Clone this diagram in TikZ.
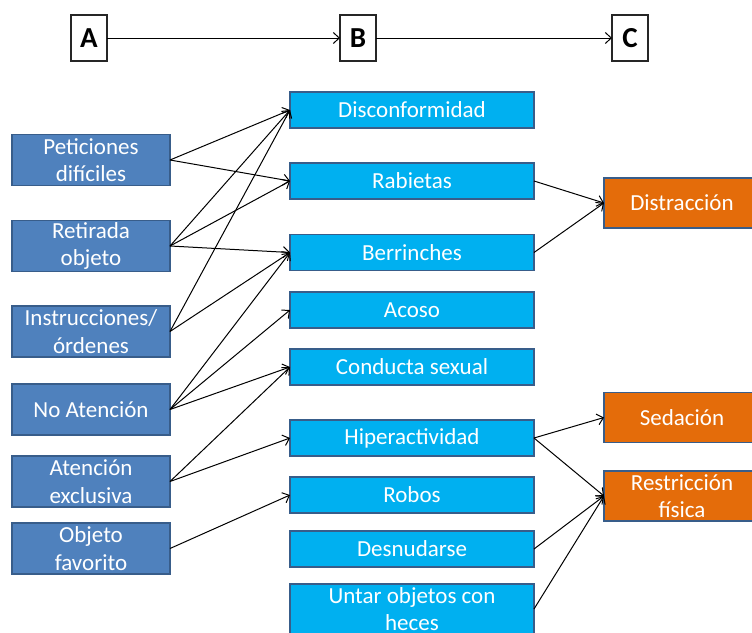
\documentclass[tikz,border=0pt]{standalone}
\usepackage{fontspec}
\setmainfont{Carlito}
\usetikzlibrary{arrows.meta}
\definecolor{aboxc}{HTML}{4F81BD}
\definecolor{bboxc}{HTML}{00B0F0}
\definecolor{cboxc}{HTML}{E46C0A}
\definecolor{edgec}{HTML}{385D8A}
\begin{document}
\begin{tikzpicture}[x=1pt,y=-1pt,
  base/.style={draw=edgec, line width=1.6pt, text=white, inner sep=0pt, outer sep=0pt, align=center, font=\fontsize{23}{27.4}\selectfont},
  abox/.style={base, fill=aboxc, minimum width=158pt, minimum height=51pt},
  bbox/.style={base, fill=bboxc, minimum width=244pt, minimum height=36pt},
  cbox/.style={base, fill=cboxc, minimum width=156pt, minimum height=50pt},
  hdr/.style={draw=black!85, fill=white, line width=1.2pt, minimum width=36pt, minimum height=46pt, inner sep=0pt, outer sep=0pt, font=\fontsize{29}{30}\selectfont\bfseries},
  conn/.style={line width=1pt, -{Straight Barb[length=6pt,width=11pt,line width=1pt]}}
]
\useasboundingbox (0,0) rectangle (752,632);

% header
\node[hdr] (A) at (89,38) {A};
\node[hdr] (B) at (358,38) {B};
\node[hdr] (C) at (630,38) {C};
\draw[conn] (A) -- (B);
\draw[conn] (B) -- (C);

% column A
\node[abox] (pet) at (91,160) {Peticiones\\difíciles};
\node[abox] (ret) at (91,246) {Retirada\\objeto};
\node[abox] (ins) at (91,331.5) {Instrucciones/\\órdenes};
\node[abox] (noa) at (91,409.5) {No Atención};
\node[abox] (ate) at (91,481.5) {Atención\\exclusiva};
\node[abox] (obj) at (91,548.5) {Objeto\\favorito};

% column B
\node[bbox] (dis) at (412,110) {Disconformidad};
\node[bbox] (rab) at (412,181) {Rabietas};
\node[bbox] (ber) at (412,252.5) {Berrinches};
\node[bbox] (aco) at (412,310) {Acoso};
\node[bbox] (con) at (412,367) {Conducta sexual};
\node[bbox] (hip) at (412,438) {Hiperactividad};
\node[bbox] (rob) at (412,495) {Robos};
\node[bbox] (des) at (412,549) {Desnudarse};
\node[bbox, minimum height=50pt] (unt) at (412,609) {Untar objetos con\\heces};

% column C
\node[cbox] (dst) at (682,203) {Distracción};
\node[cbox] (sed) at (682,417.5) {Sedación};
\node[cbox] (res) at (682,496) {Restricción\\física};

% A -> B
\draw[conn] (pet.east) -- (dis.west);
\draw[conn] (pet.east) -- (rab.west);
\draw[conn] (ret.east) -- (dis.west);
\draw[conn] (ret.east) -- (rab.west);
\draw[conn] (ret.east) -- (ber.west);
\draw[conn] (ins.east) -- (dis.west);
\draw[conn] (ins.east) -- (ber.west);
\draw[conn] (noa.east) -- (ber.west);
\draw[conn] (noa.east) -- (aco.west);
\draw[conn] (noa.east) -- (con.west);
\draw[conn] (ate.east) -- (con.west);
\draw[conn] (ate.east) -- (hip.west);
\draw[conn] (obj.east) -- (rob.west);

% B -> C
\draw[conn] (rab.east) -- (dst.west);
\draw[conn] (ber.east) -- (dst.west);
\draw[conn] (hip.east) -- (sed.west);
\draw[conn] (hip.east) -- (res.west);
\draw[conn] (des.east) -- (res.west);
\draw[conn] (unt.east) -- (res.west);
\end{tikzpicture}
\end{document}
